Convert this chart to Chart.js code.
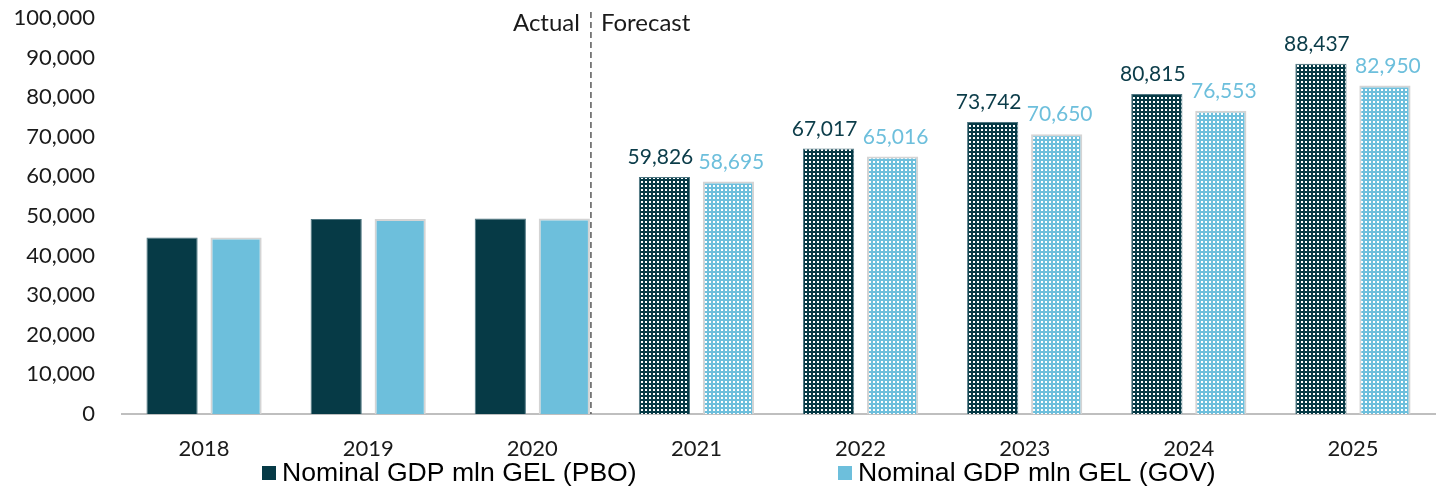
<!DOCTYPE html>
<html lang="en">
<head>
  <meta charset="UTF-8" />
  <title>Nominal GDP forecast</title>
  <script src="https://cdn.jsdelivr.net/npm/chart.js"></script>
  <style>
    html, body { margin: 0; padding: 0; background: #fff; }
    #wrap { width: 1441px; height: 488px; }
  </style>
</head>
<body>
  <div id="wrap"><canvas id="gdpChart" width="1441" height="488"></canvas></div>

  <script>
    // data
    const years = ['2018', '2019', '2020', '2021', '2022', '2023', '2024', '2025'];
    const pboValues = [44600, 49250, 49400, 59826, 67017, 73742, 80815, 88437];
    const govValues = [44600, 49250, 49400, 58695, 65016, 70650, 76553, 82950];
    const seriesNames = ['Nominal GDP mln GEL (PBO)', 'Nominal GDP mln GEL (GOV)'];
    const yTicks = [0, 10000, 20000, 30000, 40000, 50000, 60000, 70000, 80000, 90000, 100000];
    const firstForecast = 3;

    const DARK = '#063a46';
    const LIGHT = '#6dbfdc';
    const tickFont = { family: 'Lato', size: 22 };

    function dotPattern(bg) {
      const c = document.createElement('canvas');
      c.width = 4; c.height = 4;
      const g = c.getContext('2d');
      g.fillStyle = bg;
      g.fillRect(0, 0, 4, 4);
      g.fillStyle = '#ffffff';
      g.fillRect(1, 1, 2, 2);
      return g.createPattern(c, 'repeat');
    }
    const darkDots = dotPattern(DARK);
    const lightDots = dotPattern(LIGHT);

    const fmt = v => v.toLocaleString('en-US');

    // dashed divider + Actual / Forecast captions + value labels + legend
    const extras = {
      id: 'extras',
      afterDatasetsDraw(chart) {
        const ctx = chart.ctx;
        const area = chart.chartArea;
        const lastActual = chart.getDatasetMeta(1).data[firstForecast - 1];
        const xDiv = lastActual.x + lastActual.width / 2 + 1;

        ctx.save();
        ctx.strokeStyle = '#595959';
        ctx.lineWidth = 1.5;
        ctx.setLineDash([6, 4]);
        ctx.beginPath();
        ctx.moveTo(xDiv, 12);
        ctx.lineTo(xDiv, area.bottom);
        ctx.stroke();
        ctx.setLineDash([]);

        ctx.font = '24px Lato';
        ctx.fillStyle = '#1a1a1a';
        ctx.textBaseline = 'middle';
        ctx.textAlign = 'right';
        ctx.fillText('Actual', xDiv - 11, 23);
        ctx.textAlign = 'left';
        ctx.fillText('Forecast', xDiv + 10, 23);

        // value labels on forecast bars
        ctx.font = '21px Lato';
        ctx.textAlign = 'center';
        ctx.textBaseline = 'bottom';
        chart.data.datasets.forEach((ds, di) => {
          const meta = chart.getDatasetMeta(di);
          ctx.fillStyle = di === 0 ? '#0b3c49' : LIGHT;
          meta.data.forEach((bar, i) => {
            if (i < firstForecast) return;
            ctx.fillText(fmt(ds.data[i]), bar.x - (di === 0 ? 4 : -3), bar.y - 9);
          });
        });

        // legend
        ctx.font = '26.6px "Liberation Sans"';
        ctx.textAlign = 'left';
        ctx.textBaseline = 'middle';
        const ly = 473;
        const lx = [262, 838];
        const lc = [DARK, LIGHT];
        seriesNames.forEach((name, i) => {
          ctx.fillStyle = lc[i];
          ctx.fillRect(lx[i], ly - 7, 14, 14);
          ctx.fillStyle = '#000';
          ctx.fillText(name, lx[i] + 20, ly + 1);
        });
        ctx.restore();
      }
    };

    new Chart(document.getElementById('gdpChart'), {
      type: 'bar',
      data: {
        labels: years,
        datasets: [
          {
            label: seriesNames[0],
            data: pboValues,
            backgroundColor: years.map((y, i) => i < firstForecast ? DARK : darkDots),
            borderColor: '#4d7580',
            borderWidth: 1
          },
          {
            label: seriesNames[1],
            data: govValues,
            backgroundColor: years.map((y, i) => i < firstForecast ? LIGHT : lightDots),
            borderColor: '#d4d4d4',
            borderWidth: 2
          }
        ]
      },
      options: {
        responsive: false,
        animation: false,
        categoryPercentage: 0.78,
        barPercentage: 0.8,
        layout: { padding: { top: 18, right: 6, bottom: 14, left: 0 } },
        plugins: {
          legend: { display: false },
          tooltip: { enabled: false }
        },
        scales: {
          x: {
            grid: { display: false, drawTicks: false },
            border: { display: true, color: '#bfbfbf', width: 2 },
            ticks: { color: '#1a1a1a', font: tickFont, padding: 22 },
            afterFit: s => { s.height = 60; s.paddingTop = 0; s.paddingBottom = 0; }
          },
          y: {
            min: 0,
            max: 100000,
            afterBuildTicks: s => { s.ticks = yTicks.map(v => ({ value: v })); },
            grid: { display: false, drawTicks: false },
            border: { display: false },
            ticks: { color: '#1a1a1a', font: tickFont, padding: 27, callback: v => fmt(v) },
            afterFit: s => { s.width = 122; s.paddingTop = 0; s.paddingBottom = 0; }
          }
        }
      },
      plugins: [extras]
    });
  </script>
</body>
</html>
